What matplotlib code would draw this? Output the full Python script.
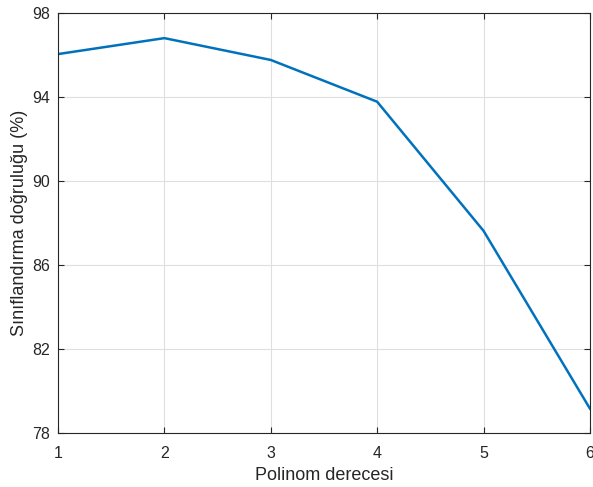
import matplotlib
matplotlib.use("Agg")
import matplotlib.pyplot as plt

degree = [1, 2, 3, 4, 5, 6]
accuracy = [96.05, 96.81, 95.77, 93.78, 87.63, 79.16]

plt.rcParams['font.family'] = ['Liberation Sans', 'DejaVu Sans']

fig = plt.figure(figsize=(5.93, 4.87), dpi=100)
ax = fig.add_axes([0.0978, 0.111, 0.897, 0.862])

ax.plot(degree, accuracy, color='#0072BD', linewidth=1.8)

ax.set_xlim(1, 6)
ax.set_ylim(78, 98)
ax.set_xticks(degree)
ax.set_yticks([78, 82, 86, 90, 94, 98])
ax.grid(True, color='#dfdfdf', linewidth=0.8)
ax.tick_params(direction='in', top=True, right=True, labelsize=11.5,
               colors='#262626', length=4)
ax.tick_params(axis='x', pad=9.5)
ax.tick_params(axis='y', pad=5.5)
for s in ax.spines.values():
    s.set_color('#262626')
    s.set_linewidth(0.8)

ax.set_xlabel('Polinom derecesi', fontsize=13, color='#262626', labelpad=4)
ax.set_ylabel('Sınıflandırma doğruluğu (%)', fontsize=13, color='#262626', labelpad=3)

fig.savefig('out.png', dpi=100)
